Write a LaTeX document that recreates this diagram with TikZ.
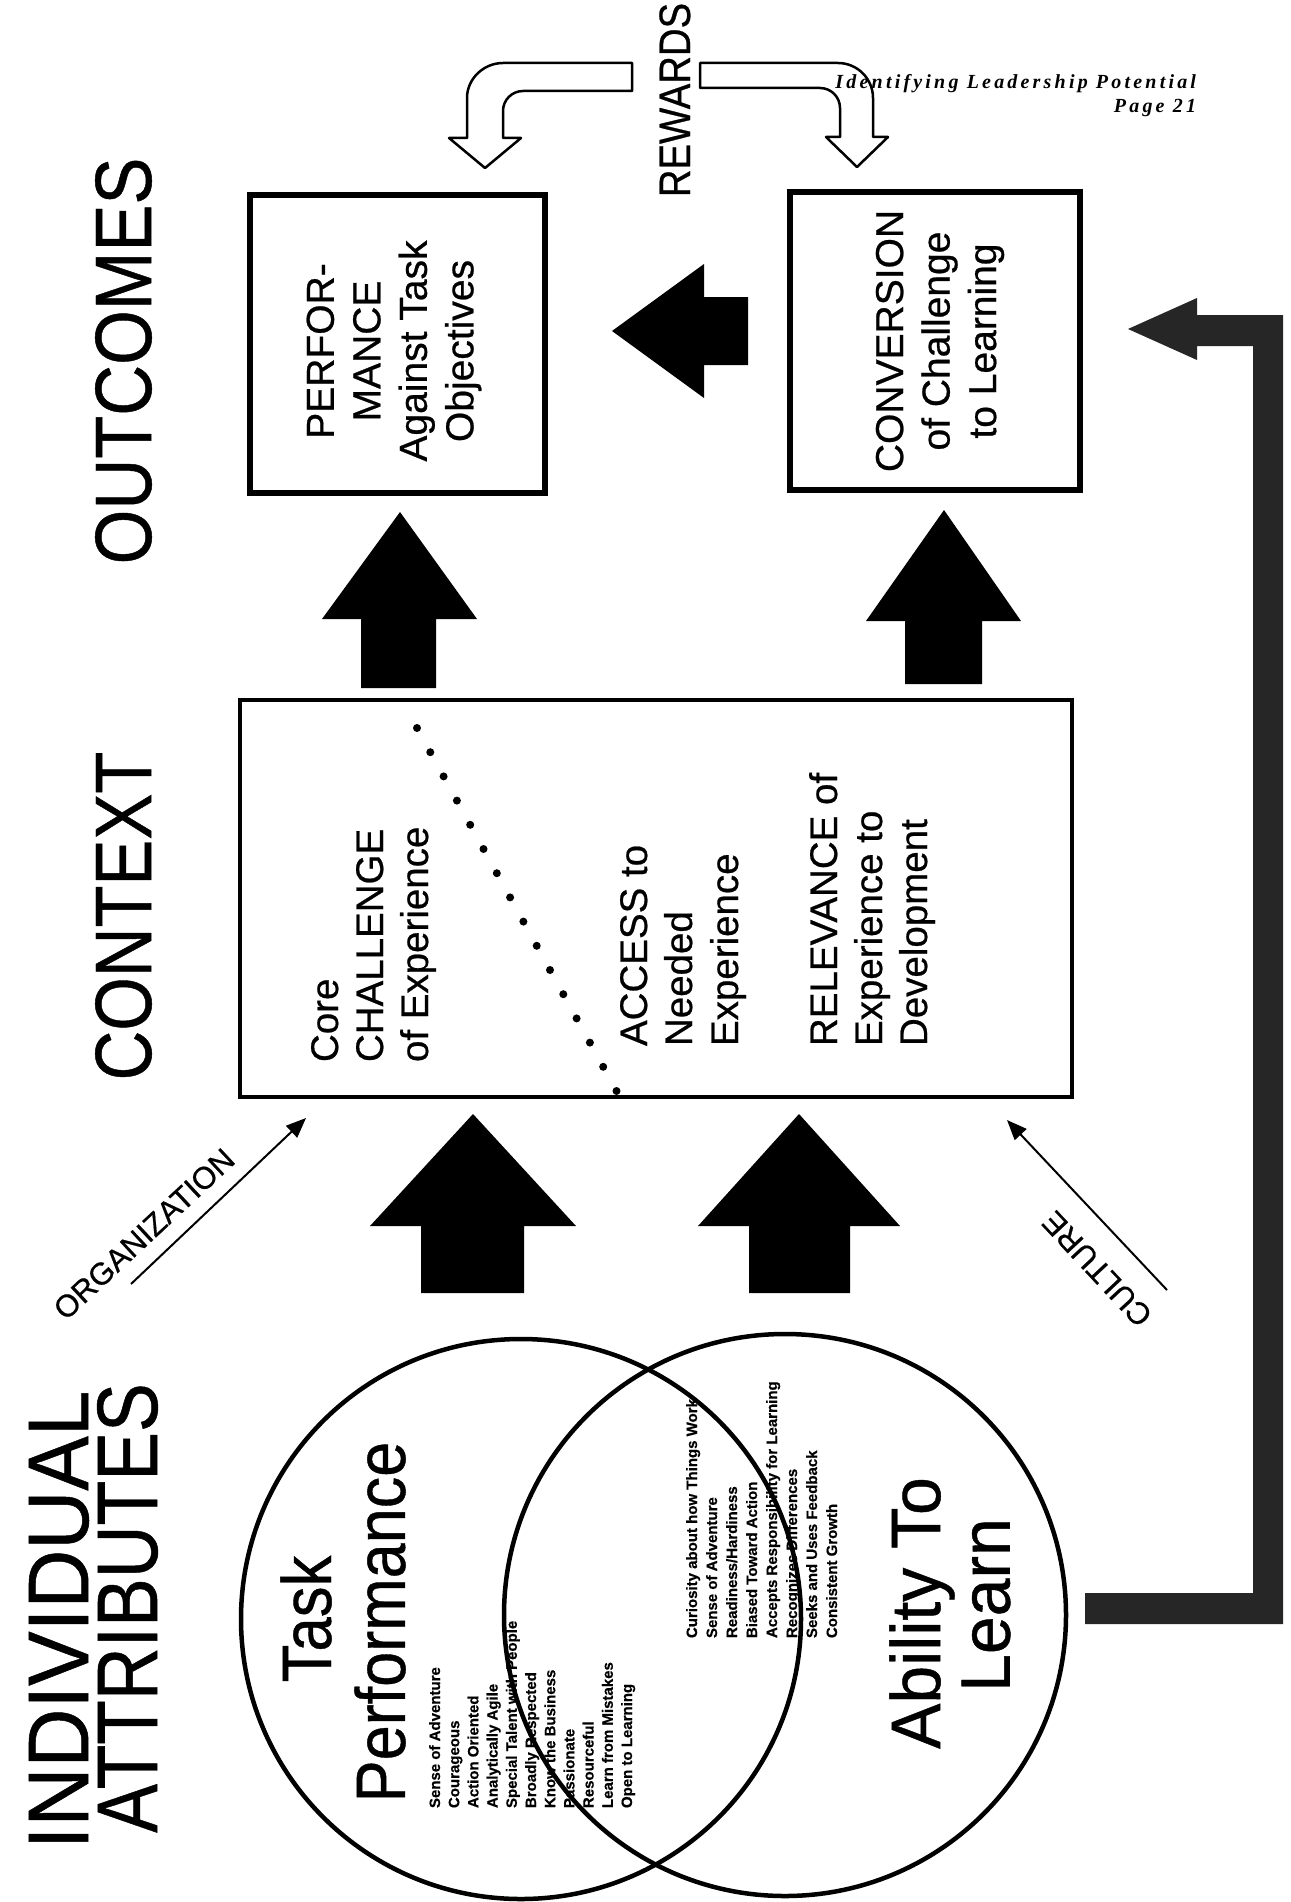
\documentclass[tikz,border=0pt]{standalone}
\usepackage{fontspec}
\setmainfont[FakeBold=0.6]{Liberation Sans}
\newfontfamily\hdrfont[LetterSpace=16]{Liberation Serif}
\usetikzlibrary{arrows.meta,shapes.geometric}
\newcommand\hsq[2]{\scalebox{#1}[1]{#2}}
\definecolor{darkbar}{RGB}{38,38,38}
\begin{document}
\begin{tikzpicture}[x=1pt,y=-1pt,
  every node/.style={inner sep=0pt,outer sep=0pt},
  headst/.style={rotate=90,font=\fontsize{80}{90}\selectfont},
  boxst/.style={draw,line width=5.5pt,rectangle},
  boxtxt/.style={rotate=90,align=center,font=\fontsize{39}{46.5}\selectfont},
  ctxtxt/.style={rotate=90,anchor=base west,font=\fontsize{38.5}{46}\selectfont},
  bigtxt/.style={rotate=90,font=\fontsize{70}{80}\selectfont},
  listtxt/.style={rotate=90,anchor=base west,font=\bfseries\fontsize{15}{20}\selectfont},
  thinarrow/.style={line width=2pt,-{Triangle[length=20pt,width=16pt]}},
  diagtxt/.style={font=\fontsize{31}{34}\selectfont},
  hollow/.style={draw,line width=2.5pt,fill=white,line join=round},
  hdr/.style={font=\hdrfont\bfseries\itshape\fontsize{20}{22}\selectfont}
]
\useasboundingbox[fill=white] (0,0) rectangle (1290,1902);

% headings
\node[headst] (hOut) at (123.5,361) {\hsq{0.88}{OUTCOMES}};
\node[headst] (hCtx) at (123.5,916) {\hsq{0.86}{CONTEXT}};
\node[headst,font=\fontsize{86}{90}\selectfont] (hInd) at (59,1620) {\hsq{0.95}{INDIVIDUAL}};
\node[headst,font=\fontsize{86}{90}\selectfont] (hAtt) at (127.5,1608) {\hsq{0.85}{ATTRIBUTES}};

% outcome boxes
\node[boxst,minimum width=295pt,minimum height=298pt] (perf) at (397.5,344) {};
\node[boxst,minimum width=290pt,minimum height=298pt] (conv) at (935,341) {};
\node[boxtxt] (perfT) at (394,351) {PERFOR-\\MANCE\\Against Task\\Objectives};
\node[boxtxt] (convT) at (940,341) {CONVERSION\\of Challenge\\to Learning};

% context box
\node[draw,line width=4.5pt,minimum width=832pt,minimum height=397pt] (ctx) at (656,898.5) {};
\node[ctxtxt] (c1) at (338,1062) {Core};
\node[ctxtxt] (c2) at (383,1062) {CHALLENGE};
\node[ctxtxt] (c3) at (428,1062) {of Experience};
\node[ctxtxt] (a1) at (647,1046) {ACCESS to};
\node[ctxtxt] (a2) at (692,1046) {Needed};
\node[ctxtxt] (a3) at (738,1046) {Experience};
\node[ctxtxt] (r1) at (837,1046) {RELEVANCE of};
\node[ctxtxt] (r2) at (882,1046) {Experience to};
\node[ctxtxt] (r3) at (927,1046) {Development};
\foreach \i in {0,...,15}
  \fill ({417+\i*13.3},{728+\i*24.2}) circle[radius=4pt];

% REWARDS and hollow arrows
\node[rotate=90,anchor=base,font=\fontsize{44}{48}\selectfont] (rew) at (690,100) {\hsq{0.87}{REWARDS}};
\draw[hollow] (632,63) -- (503,63) .. controls (483.7,63) and (467,78.7) .. (467,98)
  -- (467,138) -- (449,138) -- (485,168) -- (521,138) -- (503,138) -- (503,111)
  .. controls (503,99.95) and (511.95,91) .. (523,91) -- (632,91) -- cycle;
\draw[hollow] (700,63) -- (838,63) .. controls (857.3,63) and (873,78.7) .. (873,98)
  -- (873,137) -- (888,137) -- (857,167) -- (826,137) -- (840,137) -- (840,108)
  .. controls (840,96.95) and (831.05,88) .. (820,88) -- (700,88) -- cycle;

% page header (drawn over the arrow, as in the original)
\node[hdr,anchor=base east] (hdr1) at (1196,89) {Identifying Leadership Potential};
\node[hdr,anchor=base east] (hdr2) at (1196,113) {Page 21};

% block arrows between context and outcomes
\fill (400,512) -- (477,619) -- (436,619) -- (436,688) -- (361,688) -- (361,619) -- (322,619) -- cycle;
\fill (944,510) -- (1021,621) -- (982,621) -- (982,684) -- (905,684) -- (905,621) -- (866,621) -- cycle;
\fill (612,331) -- (704,264) -- (704,297) -- (748,297) -- (748,365) -- (704,365) -- (704,398) -- cycle;

% block arrows from attributes to context
\fill (473,1114) -- (576,1226) -- (524,1226) -- (524,1293) -- (421,1293) -- (421,1226) -- (370,1226) -- cycle;
\fill (799,1114) -- (900,1226) -- (850,1226) -- (850,1293) -- (749,1293) -- (749,1226) -- (698,1226) -- cycle;

% organization / culture
\coordinate (orgA) at (131,1284);
\coordinate (orgB) at (306,1118);
\draw[thinarrow] (orgA) -- (orgB);
\node[diagtxt,rotate=43] (org) at (144,1234) {ORGANIZATION};
\coordinate (culA) at (1167,1290);
\coordinate (culB) at (1007,1120);
\draw[thinarrow] (culA) -- (culB);
\node[diagtxt,rotate=133] (cul) at (1097,1269) {CULTURE};

% circles
\node[draw,circle,line width=4.5pt,minimum size=560pt] (tpc) at (521,1619) {};
\node[draw,circle,line width=4.5pt,minimum size=562pt] (alc) at (785,1615) {};
\node[bigtxt] (task) at (306,1619) {\hsq{0.88}{Task}};
\node[bigtxt] (perfw) at (380,1622) {\hsq{0.9}{Performance}};
\node[bigtxt] (abil) at (922,1613) {\hsq{0.97}{Ability To}};
\node[bigtxt] (learn) at (986,1605) {\hsq{0.97}{Learn}};

\foreach \t [count=\i] in {Sense of Adventure,Courageous,Action Oriented,Analytically Agile,Special Talent with People,Broadly Respected,Know the Business,Passionate,Resourceful,Learn from Mistakes,Open to Learning}
  \node[listtxt] (tp\i) at ({420.8+19.2*\i},1808) {\t};
\foreach \t [count=\i] in {Curiosity about how Things Work,Sense of Adventure,Readiness/Hardiness,Biased Toward Action,Accepts Responsibility for Learning,Recognizes Differences,Seeks and Uses Feedback,Consistent Growth}
  \node[listtxt] (al\i) at ({677+20*\i},1638) {\t};

% L-shaped feedback arrow
\coordinate (lStart) at (1085,1593);
\fill[darkbar] (lStart) -- (1253,1593) -- (1253,346) -- (1197,346) -- (1197,360) -- (1128,329)
  -- (1197,298) -- (1197,315) -- (1283,315) -- (1283,1624) -- (1085,1624) -- cycle;
\end{tikzpicture}
\end{document}
